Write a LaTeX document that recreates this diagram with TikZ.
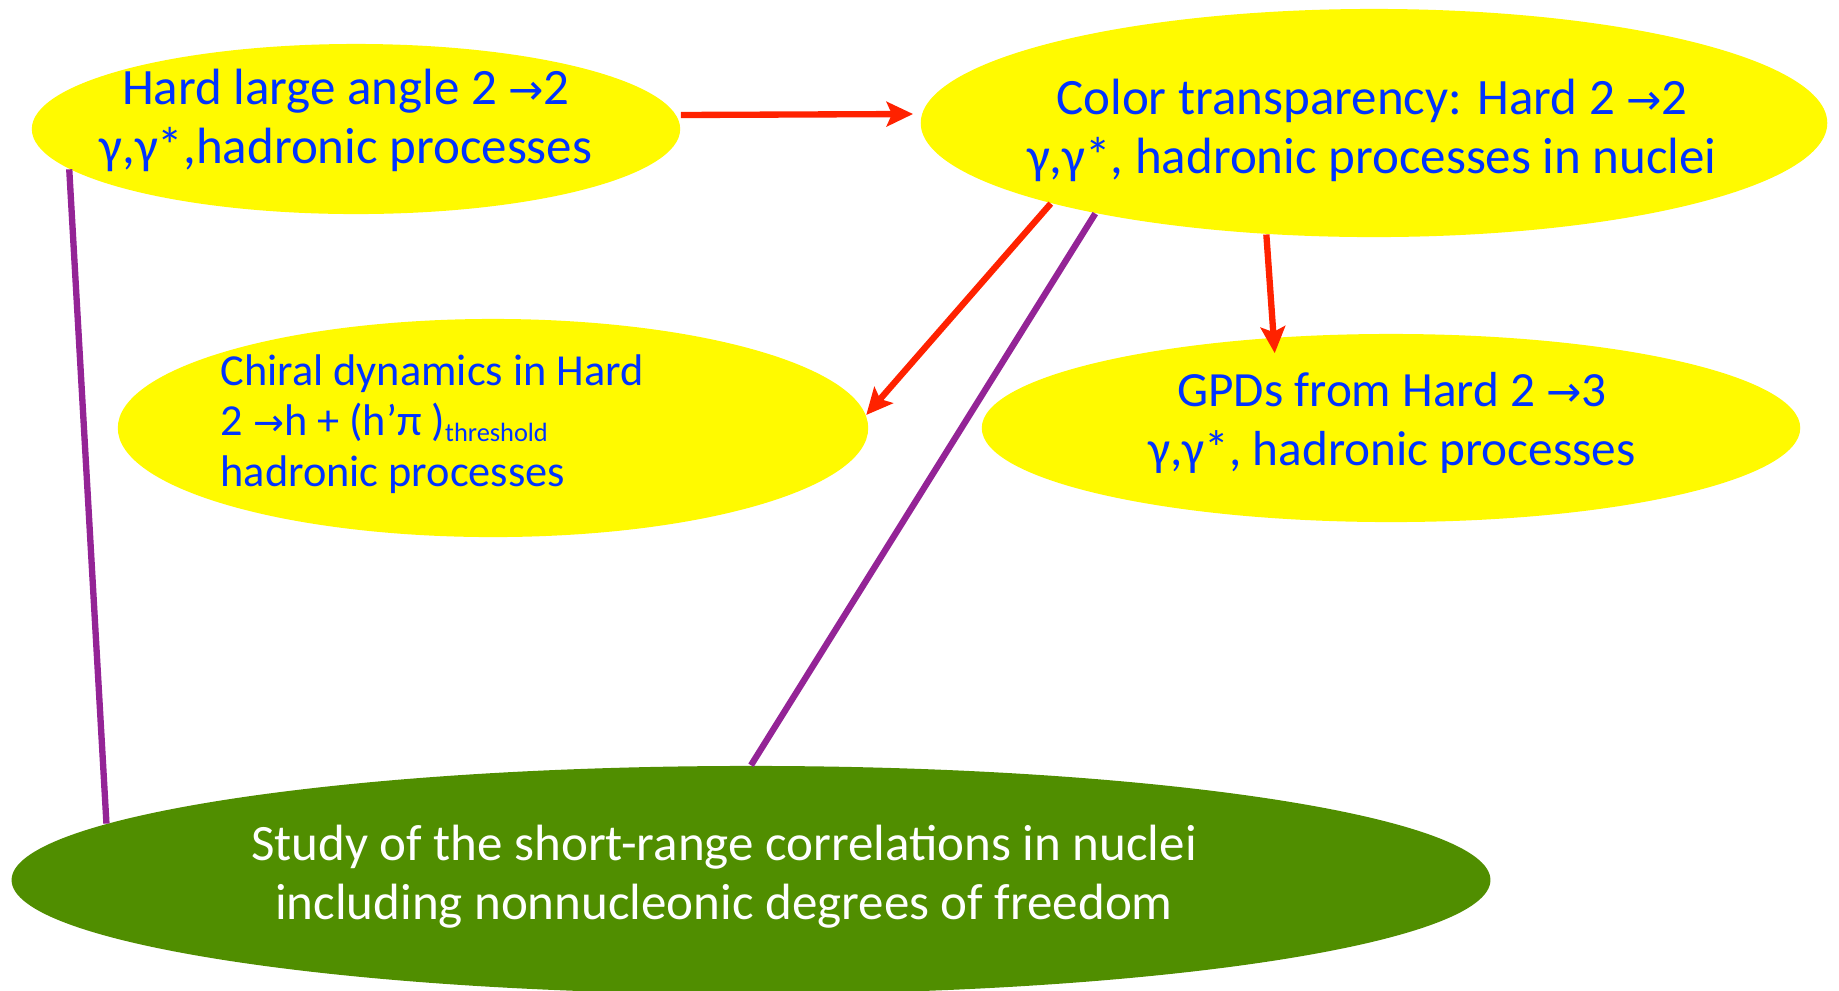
\documentclass[tikz,border=0pt]{standalone}
\usepackage{fontspec}
\setmainfont{Carlito}
\newfontfamily\arrowfont{DejaVu Sans}
\usepackage{xcolor}
\usetikzlibrary{arrows.meta, positioning, calc, shapes.geometric}
\definecolor{procblue}{RGB}{0,51,255}
\definecolor{procyellow}{RGB}{255,250,0}
\definecolor{linkred}{RGB}{255,34,0}
\definecolor{linkpurple}{RGB}{148,36,150}
\definecolor{srcgreen}{RGB}{80,142,0}
\newcommand{\ra}{{\arrowfont\fontsize{12}{12}\selectfont →}}

\begin{document}
\begin{tikzpicture}[x=0.01cm, y=-0.01cm,
    blob/.style={ellipse, inner sep=0pt, fill=procyellow},
    txt/.style={inner sep=0pt, align=center, text=procblue, font=\fontsize{14.5}{16.8}\selectfont},
    link/.style={-{Stealth[length=7.5pt, width=7pt, inset=1.5pt]}, linkred, line width=1.8pt},
    tie/.style={linkpurple, line width=1.8pt}]
    \useasboundingbox (0,0) rectangle (1839,990);

    \node[blob, fill=srcgreen, minimum width=14.78cm, minimum height=2.28cm] (study) at (751,880) {};
    \node[blob, minimum width=6.48cm, minimum height=1.7cm] (hard) at (356,129) {};
    \node[blob, minimum width=9.06cm, minimum height=2.28cm] (transp) at (1374,123) {};
    \node[blob, minimum width=7.5cm, minimum height=2.18cm] (chiral) at (493,428) {};
    \node[blob, minimum width=8.18cm, minimum height=1.88cm] (gpd) at (1391,428) {};

    \node[txt] (hard-txt) at (346,120) {Hard large angle 2 \ra2\\ γ,γ*,hadronic processes};
    \node[txt] (transp-txt) at (1372,130) {Color transparency: Hard 2 \ra2\\ γ,γ*, hadronic processes in nuclei};
    \node[txt, align=left, anchor=west, font=\fontsize{12.6}{14.4}\selectfont] (chiral-txt) at (220,424)
        {Chiral dynamics in Hard\\ 2 {\arrowfont\fontsize{10.5}{10}\selectfont →}h + (h’π )\raisebox{-1.7pt}{\fontsize{7.5}{9}\selectfont threshold}\\ hadronic processes};
    \node[txt, font=\fontsize{14}{16.8}\selectfont] (gpd-txt) at (1392,423) {GPDs from Hard 2 \ra3\\ γ,γ*, hadronic processes};
    \node[txt, text=white] (study-txt) at (724,877) {Study of the short-range correlations in nuclei\\ including nonnucleonic degrees of freedom};

    \draw[tie] (hard.188) -- (study.175);
    \draw[tie] (transp.198) -- (study.north);
    \draw[link] ([yshift=0.14cm]hard.east) -- ([shift={(-0.07cm,0.09cm)}]transp.west);
    \draw[link] (transp.194) -- (chiral.2);
    \draw[link] (transp.226) -- ([yshift=-0.16cm]gpd.142);
\end{tikzpicture}
\end{document}
